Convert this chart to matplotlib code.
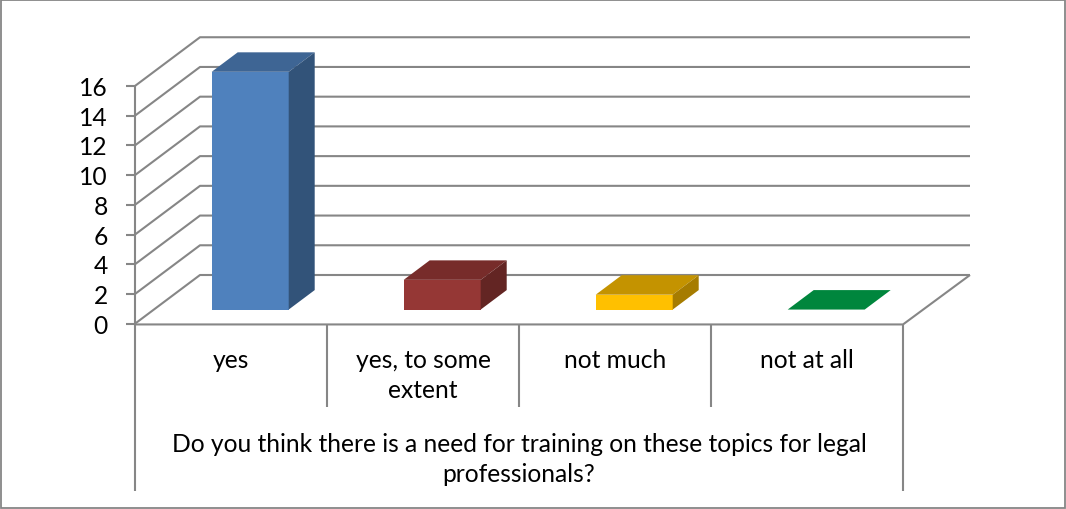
import matplotlib
matplotlib.use("Agg")
import matplotlib.pyplot as plt
from matplotlib.patches import Rectangle

# data
categories = ["yes", "yes, to some\nextent", "not much", "not at all"]
values = [16, 2, 1, 0]
y_ticks = [0, 2, 4, 6, 8, 10, 12, 14, 16]
group_label = "Do you think there is a need for training on these topics for legal\nprofessionals?"

front_colors = ["#4F81BD", "#953735", "#FFC000", "#00863D"]
top_colors = ["#3E6594", "#772C2A", "#C49300", "#00863D"]
side_colors = ["#325379", "#632523", "#A67C00", "#00863D"]
grid_color = "#868686"

# pixel layout of the plot
W, H = 1066, 510
X0, Y0 = 135, 324.7   # front corner of the floor
CAT_PX = 192          # width of one category
UNIT_PX = 14.86       # height of one y unit
DEPTH_X = 65 / CAT_PX     # how far the back wall is shifted
DEPTH_Y = 48.7 / UNIT_PX
BACK_EXTRA = 2 / CAT_PX   # back wall is a bit wider than the front
BAR_W = 77 / CAT_PX
BAR_D0, BAR_D1 = 0.28, 0.68   # bar position in the floor depth
BAR_SHIFT = 1 / CAT_PX
BAR_LIFT = 0.5 / UNIT_PX
FS = 17.75

plt.rcParams["font.family"] = ["Lato", "DejaVu Sans"]

fig = plt.figure(figsize=(W / 100, H / 100), dpi=100)
ax = fig.add_axes([0, 0, 1, 1])
ax.set_xlim(-X0 / CAT_PX, (W - X0) / CAT_PX)
ax.set_ylim((Y0 - H) / UNIT_PX, Y0 / UNIT_PX)
ax.axis("off")

line = dict(color=grid_color, lw=1.5, solid_capstyle="butt")
n = len(categories)

# gridlines on the side wall and back wall
for t in y_ticks:
    ax.plot([0, DEPTH_X, n + DEPTH_X + BACK_EXTRA], [t, t + DEPTH_Y, t + DEPTH_Y], zorder=1, **line)
    ax.plot([-9 / CAT_PX, 0], [t, t], zorder=1, **line)
    ax.text(-27 / CAT_PX, t - 1.5 / UNIT_PX, str(t), ha="right", va="center", fontsize=FS, color="black")

# axis lines and floor
ax.plot([0, 0], [0, y_ticks[-1]], zorder=1, **line)
ax.plot([0, n, n + DEPTH_X + BACK_EXTRA], [-0.05, -0.05, DEPTH_Y], zorder=1, **line)


def px_y(py):
    return (Y0 - py) / UNIT_PX


# separators of the two level category axis
for i in range(n + 1):
    bottom = 492 if i in (0, n) else 408
    ax.plot([i, i], [-0.05, px_y(bottom)], zorder=1, **line)

# bars drawn as three faces
for i, v in enumerate(values):
    left = i + 0.5 - BAR_W / 2 + BAR_D0 * DEPTH_X + BAR_SHIFT
    right = left + BAR_W
    base = BAR_D0 * DEPTH_Y + BAR_LIFT
    dx = (BAR_D1 - BAR_D0) * DEPTH_X
    dy = (BAR_D1 - BAR_D0) * DEPTH_Y
    ax.fill([left, right, right, left], [base, base, base + v, base + v],
            color=front_colors[i], lw=0, zorder=3)
    ax.fill([left, right, right + dx, left + dx],
            [base + v, base + v, base + v + dy, base + v + dy],
            color=top_colors[i], lw=0, zorder=3)
    ax.fill([right, right + dx, right + dx, right],
            [base, base + dy, base + v + dy, base + v],
            color=side_colors[i], lw=0, zorder=3)

# category labels
for i, c in enumerate(categories):
    ax.text(i + 0.5, px_y(349.5), c, ha="center", va="top", fontsize=FS,
            color="black", linespacing=1.33)
ax.text(n / 2, px_y(433.5), group_label, ha="center", va="top", fontsize=FS,
        color="black", linespacing=1.33)

# chart border
fig.add_artist(Rectangle((1 / W, 1 / H), (W - 2) / W, (H - 2) / H, fill=False,
                         edgecolor=grid_color, lw=1.3, transform=fig.transFigure))

fig.savefig("out.png", dpi=100)
